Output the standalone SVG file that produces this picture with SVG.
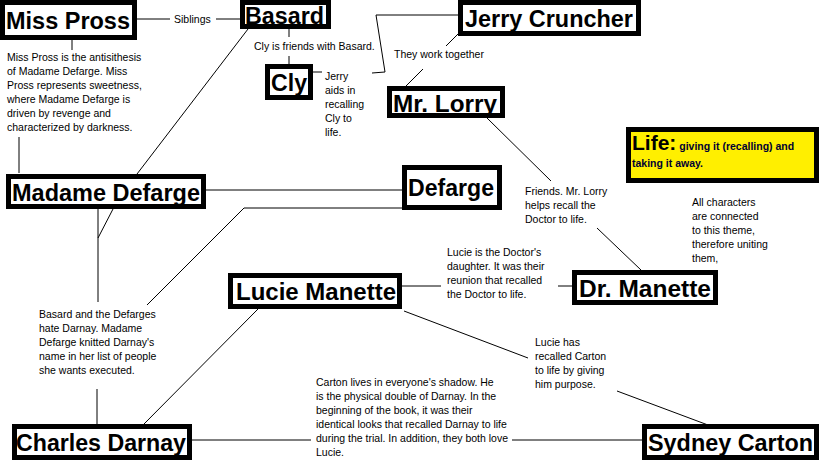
<svg xmlns="http://www.w3.org/2000/svg" width="819" height="460" viewBox="0 0 819 460">
<style>
.box{fill:#fff;stroke:#000;stroke-width:5}
.lbl{font-family:"Liberation Sans",Arial,sans-serif;font-weight:bold;font-size:23px;fill:#000}
.t{font-family:"Liberation Sans",Arial,sans-serif;font-size:10.5px;fill:#000}
.c line,.c polyline{stroke:#000;stroke-width:1;fill:none}
</style>
<rect width="819" height="460" fill="#fff"/>
<g class="c" id="connectors">
<line x1="137" y1="19" x2="170" y2="19"/><line x1="216" y1="19" x2="240" y2="19"/>
<line x1="72" y1="40" x2="72" y2="50"/>
<line x1="19" y1="137" x2="19" y2="173"/>
<line x1="248" y1="29" x2="137" y2="174"/>
<line x1="289" y1="29" x2="289" y2="37"/><line x1="289" y1="56" x2="289" y2="64"/>
<line x1="313" y1="72" x2="322" y2="72"/>
<polyline points="372,73 385,72 376,15 458,15"/>
<line x1="458" y1="34" x2="446" y2="46"/><line x1="423" y1="69" x2="406" y2="86"/>
<line x1="487" y1="118" x2="551" y2="181"/><line x1="597" y1="228" x2="641" y2="270"/>
<line x1="206" y1="190" x2="402" y2="190"/>
<polyline points="402,208 244,208 147,305"/>
<line x1="98" y1="209" x2="98" y2="302"/><line x1="113" y1="209" x2="98" y2="238"/>
<line x1="97" y1="389" x2="97" y2="424"/>
<line x1="258" y1="309" x2="144" y2="424"/>
<line x1="402" y1="286" x2="441" y2="286"/><line x1="558" y1="286" x2="572" y2="286"/>
<line x1="404" y1="311" x2="528" y2="358"/><line x1="617" y1="391" x2="708" y2="425"/>
<line x1="192" y1="440" x2="311" y2="440"/><line x1="512" y1="440" x2="642" y2="440"/>
</g>
<g id="miss-pross"><rect class="box" x="2.5" y="2.5" width="132" height="35"/><text class="lbl" x="6" y="29" textLength="124" lengthAdjust="spacingAndGlyphs">Miss Pross</text></g>
<text class="t" x="174" y="23">Siblings</text>
<g id="basard"><rect class="box" x="242.5" y="2.5" width="86" height="24"/><text class="lbl" x="245" y="24" textLength="79" lengthAdjust="spacingAndGlyphs">Basard</text></g>
<text class="t" x="254" y="50">Cly is friends with Basard.</text>
<g id="jerry"><rect class="box" x="460.5" y="2.5" width="178" height="31"/><text class="lbl" x="465" y="27" textLength="168" lengthAdjust="spacingAndGlyphs">Jerry Cruncher</text></g>
<text class="t" x="394" y="58">They work together</text>
<g id="cly"><rect class="box" x="267.5" y="66.5" width="43" height="31"/><text class="lbl" x="271" y="91" textLength="36" lengthAdjust="spacingAndGlyphs">Cly</text></g>
<text class="t"><tspan x="325" y="80">Jerry</tspan><tspan x="325" y="94">aids in</tspan><tspan x="325" y="108">recalling</tspan><tspan x="325" y="122">Cly to</tspan><tspan x="325" y="136">life.</tspan></text>
<text class="t"><tspan x="7" y="61">Miss Pross is the antisithesis</tspan><tspan x="7" y="75">of Madame Defarge. Miss</tspan><tspan x="7" y="89">Pross represents sweetness,</tspan><tspan x="7" y="103">where Madame Defarge is</tspan><tspan x="7" y="117">driven by revenge and</tspan><tspan x="7" y="131">characterized by darkness.</tspan></text>
<g id="mr-lorry"><rect class="box" x="389.5" y="88.5" width="113" height="27"/><text class="lbl" x="393" y="112" textLength="104" lengthAdjust="spacingAndGlyphs">Mr. Lorry</text></g>
<g id="life"><rect x="628.5" y="129.5" width="188" height="51" fill="#ffef00" stroke="#000" stroke-width="5"/><text x="632" y="150" font-family="Liberation Sans,Arial,sans-serif" font-weight="bold" font-size="21">Life:<tspan font-size="10.5" fill="#000033"> giving it (recalling) and</tspan></text><text x="632" y="167" font-family="Liberation Sans,Arial,sans-serif" font-weight="bold" font-size="10.5" fill="#000033">taking it away.</text></g>
<text class="t"><tspan x="692" y="206">All characters</tspan><tspan x="692" y="220">are connected</tspan><tspan x="692" y="234">to this theme,</tspan><tspan x="692" y="248">therefore uniting</tspan><tspan x="692" y="262">them,</tspan></text>
<g id="defarge"><rect class="box" x="404.5" y="167.5" width="95" height="40"/><text class="lbl" x="408" y="196" textLength="86" lengthAdjust="spacingAndGlyphs">Defarge</text></g>
<g id="madame-defarge"><rect class="box" x="8.5" y="176.5" width="195" height="30"/><text class="lbl" x="12" y="201" textLength="188" lengthAdjust="spacingAndGlyphs">Madame Defarge</text></g>
<text class="t"><tspan x="525" y="195">Friends. Mr. Lorry</tspan><tspan x="525" y="209">helps recall the</tspan><tspan x="525" y="223">Doctor to life.</tspan></text>
<text class="t"><tspan x="447" y="256">Lucie is the Doctor's</tspan><tspan x="447" y="270">daughter. It was their</tspan><tspan x="447" y="284">reunion that recalled</tspan><tspan x="447" y="298">the Doctor to life.</tspan></text>
<g id="dr-manette"><rect class="box" x="574.5" y="272.5" width="141" height="30"/><text class="lbl" x="579" y="297" textLength="132" lengthAdjust="spacingAndGlyphs">Dr. Manette</text></g>
<g id="lucie-manette"><rect class="box" x="230.5" y="275.5" width="169" height="31"/><text class="lbl" x="236" y="300" textLength="160" lengthAdjust="spacingAndGlyphs">Lucie Manette</text></g>
<text class="t"><tspan x="39" y="318">Basard and the Defarges</tspan><tspan x="39" y="332">hate Darnay. Madame</tspan><tspan x="39" y="346">Defarge knitted Darnay's</tspan><tspan x="39" y="360">name in her list of people</tspan><tspan x="39" y="374">she wants executed.</tspan></text>
<text class="t"><tspan x="535" y="346">Lucie has</tspan><tspan x="535" y="360">recalled Carton</tspan><tspan x="535" y="374">to life by giving</tspan><tspan x="535" y="388">him purpose.</tspan></text>
<text class="t"><tspan x="316" y="386">Carton lives in everyone's shadow. He</tspan><tspan x="316" y="400">is the physical double of Darnay. In the</tspan><tspan x="316" y="414">beginning of the book, it was their</tspan><tspan x="316" y="428">identical looks that recalled Darnay to life</tspan><tspan x="316" y="442">during the trial. In addition, they both love</tspan><tspan x="316" y="456">Lucie.</tspan></text>
<g id="charles-darnay"><rect class="box" x="14.5" y="426.5" width="175" height="31"/><text class="lbl" x="16" y="451" textLength="170" lengthAdjust="spacingAndGlyphs">Charles Darnay</text></g>
<g id="sydney-carton"><rect class="box" x="644.5" y="426.5" width="172" height="31"/><text class="lbl" x="648" y="451" textLength="165" lengthAdjust="spacingAndGlyphs">Sydney Carton</text></g>
</svg>
